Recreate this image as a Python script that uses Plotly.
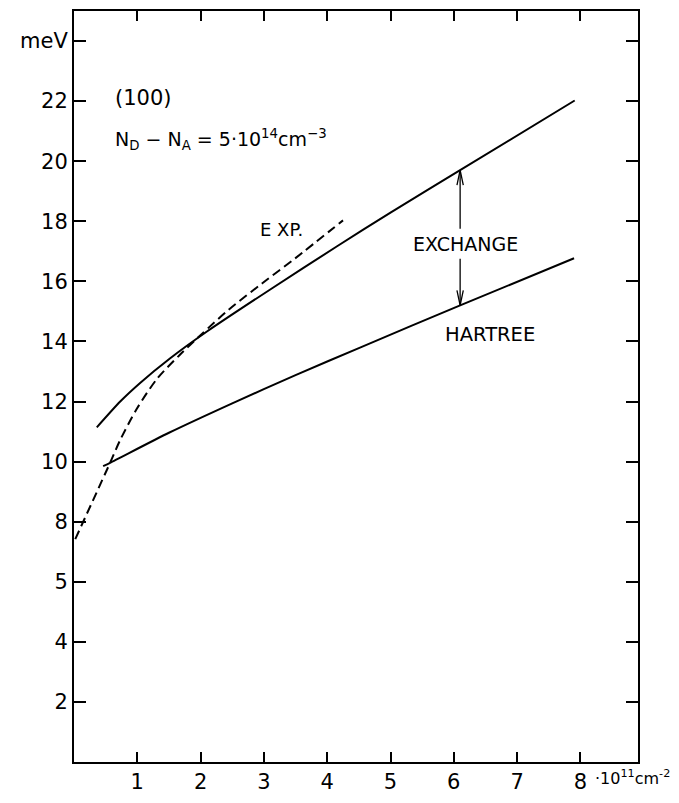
import plotly.graph_objects as go

# ---- data ----
exch_x = [0.36, 0.73, 1.04, 1.52, 2.10, 3.10, 4.15, 5.00, 6.10, 7.91]
exch_y = [11.14, 12.0, 12.61, 13.44, 14.33, 15.73, 17.16, 18.29, 19.70, 22.02]

hart_x = [0.46, 0.57, 1.50, 2.50, 3.50, 4.50, 6.10, 7.90]
hart_y = [9.85, 9.96, 10.96, 11.94, 12.88, 13.78, 15.20, 16.77]

exp_x = [0.02, 0.57, 0.73, 0.99, 1.31, 1.67, 2.02, 2.44, 2.97, 3.49, 4.25]
exp_y = [7.42, 9.96, 10.72, 11.75, 12.75, 13.55, 14.25, 15.05, 15.93, 16.76, 18.03]

x_ticks = [1, 2, 3, 4, 5, 6, 7, 8]
x_ticktext = ["1", "2", "3", "4", "5", "6", "7", "8"]
y_ticks = [2, 4, 6, 8, 10, 12, 14, 16, 18, 20, 22, 24]
y_ticktext = ["2", "4", "5", "8", "10", "12", "14", "16", "18", "20", "22", "meV"]

arrow_x = 6.1
arrow_top = 19.70
arrow_bottom = 15.20
arrow_gap_top = 17.75
arrow_gap_bottom = 16.75

FONT = "DejaVu Sans"

fig = go.Figure()
fig.add_trace(go.Scatter(x=exch_x, y=exch_y, mode="lines",
                         line=dict(color="black", width=2, shape="spline", smoothing=0.7),
                         showlegend=False))
fig.add_trace(go.Scatter(x=hart_x, y=hart_y, mode="lines",
                         line=dict(color="black", width=2, shape="spline", smoothing=0.7),
                         showlegend=False))
fig.add_trace(go.Scatter(x=exp_x, y=exp_y, mode="lines",
                         line=dict(color="black", width=2, dash="9px,5px", shape="spline", smoothing=0.8),
                         showlegend=False))

annots = [
    dict(x=0.62, y=22.12, text="(100)", xanchor="left", yanchor="middle",
         font=dict(size=21)),
    dict(x=0.62, y=20.73,
         text="N<sub>D</sub> \u2212 N<sub>A</sub> = 5\u00b710<sup>14</sup>cm<sup>\u22123</sup>",
         xanchor="left", yanchor="middle", font=dict(size=19)),
    dict(x=2.91, y=17.71, text="E XP.", xanchor="left", yanchor="middle", font=dict(size=18)),
    dict(x=6.19, y=17.25, text="EXCHANGE", xanchor="center", yanchor="middle", font=dict(size=19)),
    dict(x=6.57, y=14.23, text="HARTREE", xanchor="center", yanchor="middle", font=dict(size=19.5)),
    dict(xref="paper", yref="paper", x=0.92, y=-0.021,
         text="\u00b710<sup>11</sup>cm<sup>-2</sup>", xanchor="left", yanchor="middle",
         font=dict(size=16)),
]
for a in annots:
    a.setdefault("showarrow", False)
    a["font"]["family"] = FONT
    a["font"]["color"] = "black"
    fig.add_annotation(**a)

# double arrow (EXCHANGE gap), drawn as shafts plus open V heads
head_dx = 0.05
head_dy = 0.5
arrow_line = dict(color="black", width=1.3)
fig.add_shape(type="line", x0=arrow_x, x1=arrow_x, y0=arrow_gap_top, y1=arrow_top,
              xref="x", yref="y", line=arrow_line)
fig.add_shape(type="line", x0=arrow_x, x1=arrow_x, y0=arrow_gap_bottom, y1=arrow_bottom,
              xref="x", yref="y", line=arrow_line)
fig.add_shape(type="path", xref="x", yref="y", line=arrow_line,
              path=f"M {arrow_x - head_dx},{arrow_top - head_dy} L {arrow_x},{arrow_top} "
                   f"L {arrow_x + head_dx},{arrow_top - head_dy}")
fig.add_shape(type="path", xref="x", yref="y", line=arrow_line,
              path=f"M {arrow_x - head_dx},{arrow_bottom + head_dy} L {arrow_x},{arrow_bottom} "
                   f"L {arrow_x + head_dx},{arrow_bottom + head_dy}")

fig.update_xaxes(range=[0, 8.91], tickmode="array", tickvals=x_ticks, ticktext=x_ticktext,
                 ticks="inside", ticklen=10, tickwidth=2, tickcolor="black",
                 showline=True, linewidth=2, linecolor="black", mirror="ticks",
                 showgrid=False, zeroline=False,
                 tickfont=dict(family=FONT, size=21, color="black"))
fig.update_yaxes(range=[0, 25], tickmode="array", tickvals=y_ticks, ticktext=y_ticktext,
                 ticks="inside", ticklen=12, tickwidth=2, tickcolor="black",
                 showline=True, linewidth=2, linecolor="black", mirror="ticks",
                 showgrid=False, zeroline=False,
                 tickfont=dict(family=FONT, size=21, color="black"))

# page body has an 8px margin, so the figure is sized/offset to compensate
fig.update_layout(width=671, height=795,
                  margin=dict(l=66, r=41, t=1, b=41),
                  plot_bgcolor="white", paper_bgcolor="white",
                  font=dict(family=FONT, color="black"))

fig.write_html("out.html")
